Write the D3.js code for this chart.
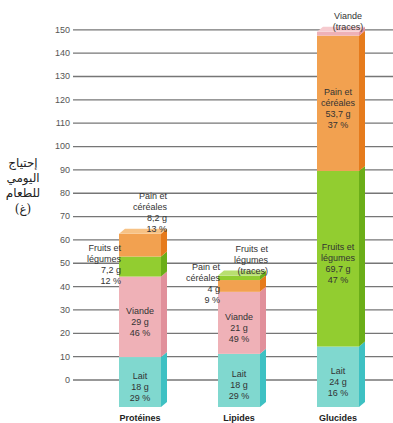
<!DOCTYPE html>
<html><head><meta charset="utf-8">
<script src="https://cdn.jsdelivr.net/npm/d3@7/dist/d3.min.js"></script>
<style>
html,body{margin:0;padding:0;background:#fff;}
svg{display:block;}
</style></head>
<body>
<svg id="chart" width="393" height="423"></svg>
<script>
// ---------- data ----------
const categories = ["Protéines", "Lipides", "Glucides"];
const yTicks = [0, 10, 20, 30, 40, 50, 60, 70, 80, 90, 100, 110, 120, 130, 140, 150];
const yTitle = ["إحتياج", "اليومي", "للطعام", "(غ)"];

// stacking order, bottom to top; null grams = traces
const proteinesSources = ["Lait", "Viande", "Fruits et légumes", "Pain et céréales"];
const proteinesGrams   = [18, 29, 7.2, 8.2];
const proteinesPct     = [29, 46, 12, 13];

const lipidesSources = ["Lait", "Viande", "Pain et céréales", "Fruits et légumes"];
const lipidesGrams   = [18, 21, 4, null];
const lipidesPct     = [29, 49, 9, null];

const glucidesSources = ["Lait", "Fruits et légumes", "Pain et céréales", "Viande"];
const glucidesGrams   = [24, 69.7, 53.7, null];
const glucidesPct     = [16, 47, 37, null];

// ---------- styles ----------
const colors = {
  "Lait":              {front: "#80d8cf", side: "#3ec1c3", top: "#a9e7e0"},
  "Viande":            {front: "#efb1b7", side: "#e1909b", top: "#f6cbcf"},
  "Fruits et légumes": {front: "#92cd30", side: "#6bae18", top: "#b8df70"},
  "Pain et céréales":  {front: "#f2a150", side: "#e67b1c", top: "#f7c285"}
};
const labelText = {
  "Lait": ["Lait"], "Viande": ["Viande"],
  "Fruits et légumes": ["Fruits et", "légumes"],
  "Pain et céréales": ["Pain et", "céréales"]
};
const placements = [
  [{k:"in"}, {k:"in"}, {k:"left"}, {k:"above", anchor:"end", dx:6}],
  [{k:"in"}, {k:"in"}, {k:"left"}, {k:"above", anchor:"end", dx:8}],
  [{k:"in"}, {k:"in"}, {k:"in"},   {k:"above", anchor:"middle", dx:-11}]
];
const TRACE_G = 1.5;
const fmtG = v => d3.format(".1~f")(v).replace(".", ",") + " g";

const svg = d3.select("#chart");
const y = d3.scaleLinear().domain([0, 150]).range([379.5, 29.3]);
const x = d3.scalePoint().domain(categories).range([140, 338]);
const barW = 42, dx3 = 6, dy3 = 5, baseY = 407;

const axis = d3.axisLeft(y).tickValues(yTicks).tickSize(-(393 - 73)).tickPadding(3);
const gAxis = svg.append("g").attr("transform", "translate(73,0)").call(axis);
gAxis.select(".domain").remove();
gAxis.selectAll(".tick line").attr("stroke", "#767676").attr("stroke-width", 1.3);
gAxis.selectAll(".tick text").attr("fill", "#555").style("font-family", "Arial, 'Liberation Sans', sans-serif").style("font-size", "9px");

const tt = svg.append("text").attr("text-anchor", "middle")
  .style("font-family", "'DejaVu Serif','Liberation Serif','DejaVu Sans',serif")
  .style("font-size", "12px").attr("fill", "#222");
yTitle.forEach((s, i) => tt.append("tspan").attr("x", 23).attr("y", 167 + i * 15 + (i === 3 ? 1 : 0)).text(s));

const allSources = [proteinesSources, lipidesSources, glucidesSources];
const allGrams = [proteinesGrams, lipidesGrams, glucidesGrams];
const allPct = [proteinesPct, lipidesPct, glucidesPct];

const labelLayer = [];
categories.forEach((cat, ci) => {
  const srcs = allSources[ci], grams = allGrams[ci], pcts = allPct[ci];
  const vals = grams.map(g => g == null ? TRACE_G : g);
  const total = d3.sum(vals);
  const by = d3.scaleLinear().domain([0, total]).range([baseY, y(total)]);
  const x0 = x(cat) - barW / 2, x1 = x0 + barW;
  const g = svg.append("g");
  let cum = 0;
  srcs.forEach((s, si) => {
    const yb = by(cum), yt = by(cum + vals[si]);
    cum += vals[si];
    const c = colors[s];
    g.append("path").attr("fill", c.side)
      .attr("d", `M${x1},${yb}L${x1 + dx3},${yb - dy3}L${x1 + dx3},${yt - dy3}L${x1},${yt}Z`);
    g.append("rect").attr("x", x0).attr("y", yt).attr("width", barW).attr("height", yb - yt).attr("fill", c.front);
    if (si === srcs.length - 1) {
      g.append("path").attr("fill", c.top)
        .attr("d", `M${x0},${yt}L${x0 + dx3},${yt - dy3}L${x1 + dx3},${yt - dy3}L${x1},${yt}Z`);
    }
    const lines = labelText[s].slice();
    if (grams[si] == null) lines.push("(traces)");
    else { lines.push(fmtG(grams[si])); lines.push(pcts[si] + " %"); }
    labelLayer.push({lines, p: placements[ci][si], x0, x1, yb, yt, top: by(total)});
  });
  svg.append("text").attr("x", x(cat)).attr("y", 421).attr("text-anchor", "middle")
    .style("font-family", "Arial, 'Liberation Sans', sans-serif").style("font-size", "9px")
    .style("font-weight", "bold").attr("fill", "#222").text(cat);
});

const LH = 11;
labelLayer.forEach(L => {
  const n = L.lines.length;
  let ax, anchor, firstY;
  const mid = (L.yb + L.yt) / 2;
  if (L.p.k === "in") {
    ax = (L.x0 + L.x1) / 2; anchor = "middle";
    firstY = mid + 5 - (n - 1) * LH / 2;
  } else if (L.p.k === "left") {
    ax = L.x0 + 2; anchor = "end";
    firstY = mid - 2 - (n - 1) * LH / 2;
  } else {
    anchor = L.p.anchor;
    ax = L.x1 + L.p.dx;
    firstY = L.top - 5 - (n - 1) * LH;
  }
  const t = svg.append("text").attr("text-anchor", anchor)
    .style("font-family", "Arial, 'Liberation Sans', sans-serif").style("font-size", "9px")
    .attr("fill", "#333");
  L.lines.forEach((s, i) => t.append("tspan").attr("x", ax).attr("y", firstY + i * LH + 3).text(s));
});
</script>
</body></html>
